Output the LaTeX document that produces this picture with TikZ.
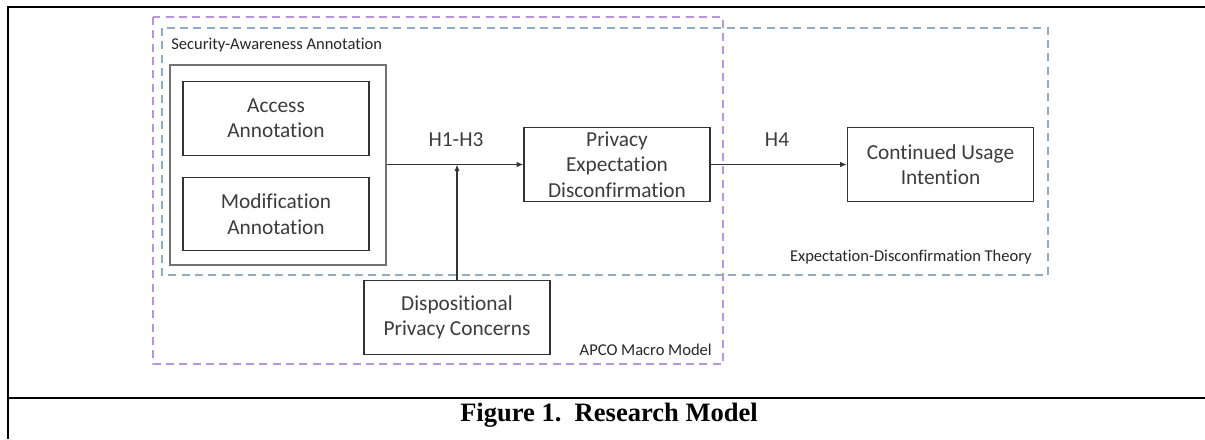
\documentclass[tikz,border=0pt]{standalone}
\usepackage{fontspec}
\setmainfont{Carlito}[Ligatures=NoCommon]
\newfontfamily\capfont{Liberation Serif}
\usetikzlibrary{positioning,arrows.meta}
\definecolor{apcopurple}{RGB}{184,150,216}
\definecolor{edtblue}{RGB}{146,172,196}
\definecolor{boxgray}{RGB}{60,60,60}

\begin{document}
\begin{tikzpicture}[x=0.75pt, y=-0.75pt,
    box/.style={draw=black!80, line width=0.9pt, rectangle, align=center, text=boxgray,
      minimum width=139.5pt, minimum height=55pt, font=\fontsize{16}{19}\selectfont},
    small/.style={text=black!85, inner sep=0pt, font=\fontsize{12.4}{14}\selectfont},
    hyp/.style={text=boxgray, inner sep=0pt, font=\fontsize{16}{19}\selectfont},
    arrow/.style={-{Latex[length=5pt,width=4pt]}, line width=0.9pt, draw=black!80},
    theory/.style={dash pattern=on 6pt off 4pt, line width=1.1pt}]
    \useasboundingbox (0,0) rectangle (1205,439);
    % page frame and caption rule
    \draw[line width=1.5pt] (1205,7) -- (8,7) -- (8,439);
    \draw[line width=1.5pt] (8,398) -- (1205,398);
    % theory frames
    \draw[theory, draw=apcopurple] (153,17) rectangle (723,364);
    \draw[theory, draw=edtblue] (162,28) rectangle (1048,275);
    \node[small, anchor=west] (seclabel) at (171,45) {Security-Awareness Annotation};
    \node[small, anchor=east] (apcolabel) at (712,350) {APCO Macro Model};
    \node[small, anchor=east] (edtlabel) at (1032,257) {Expectation-Disconfirmation Theory};
    % constructs
    \node[draw=black!55, line width=1.5pt, minimum width=162pt, minimum height=150pt] (sec) at (278,164.5) {};
    \node[box] (access) at (276,118.5) {Access\\Annotation};
    \node[box, below=15.75pt of access] (modif) {Modification\\Annotation};
    \node[box] (privacy) at (617,164.5) {Privacy\\Expectation\\Disconfirmation};
    \node[box] (cont) at (940.5,164.5) {Continued Usage\\Intention};
    \node[box] (disp) at (457,317.5) {Dispositional\\Privacy Concerns};
    % hypotheses
    \draw[arrow] (sec) -- (privacy);
    \draw[arrow] (disp.north) -- (disp.north |- sec.east);
    \draw[arrow] (privacy) -- (cont);
    \node[hyp] (h13) at (456,140) {H1-H3};
    \node[hyp] (h4) at (777,140) {H4};
    \node[font=\capfont\bfseries\fontsize{19.9}{24}\selectfont] (caption) at (609,415) {Figure 1.\hspace{0.5em}Research Model};
\end{tikzpicture}
\end{document}
